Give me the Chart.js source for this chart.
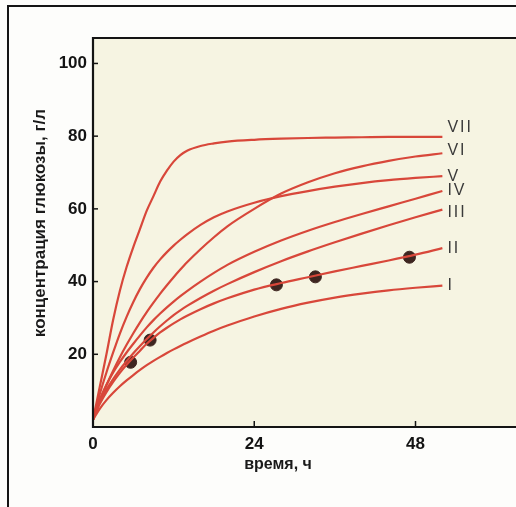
<!DOCTYPE html>
<html><head><meta charset="utf-8">
<script src="https://cdn.jsdelivr.net/npm/chart.js@4.4.1/dist/chart.umd.min.js"></script>
<style>
html,body{margin:0;padding:0;background:#fdfdfb;overflow:hidden;}
#wrap{position:relative;width:516px;height:507px;overflow:hidden;}
#frame{position:absolute;left:7px;top:5px;width:600px;height:600px;border-left:2px solid #151515;border-top:2px solid #151515;}
#c{position:absolute;left:0;top:0;}
</style></head><body>
<div id="wrap"><div id="frame"></div><canvas id="c" width="530" height="507"></canvas></div>
<script>
// time grid, hours
const hours = [0,1,2,3,4,5,6,7,8,9,10,11,12,13,14,16,18,20,24,28,32,36,40,44,48,52];
// glucose concentration, g/l
const curveI   = [2,5,7.4,9.4,11.2,12.8,14.3,15.7,17.0,18.2,19.3,20.35,21.35,22.3,23.2,24.9,26.5,27.9,30.4,32.5,34.2,35.6,36.7,37.6,38.3,38.9];
const curveII  = [2,6.3,9.6,12.4,14.9,17.1,19.1,21.0,22.9,24.5,26.0,27.3,28.5,29.6,30.6,32.4,34.0,35.4,37.8,39.6,41.2,42.8,44.3,45.8,47.4,49.2];
const curveIII = [2,6.8,10.3,13.2,15.8,18.1,20.3,22.3,24.2,26.0,27.7,29.3,30.8,32.1,33.3,35.5,37.5,39.3,42.6,45.6,48.3,50.8,53.2,55.5,57.7,59.8];
const curveIV  = [2,7.5,11.6,15.0,17.9,20.5,22.9,25.2,27.4,29.4,31.2,32.9,34.5,36.0,37.4,40.0,42.4,44.6,48.2,51.3,54.0,56.4,58.6,60.7,62.8,64.9];
const curveV   = [2,9,15,20.5,25.7,30.3,34.4,38.0,41.1,43.8,46.1,48.1,49.9,51.5,53.0,55.6,57.7,59.3,61.7,63.5,64.9,66.1,67.1,67.9,68.5,69.0];
const curveVI  = [2,7,11.5,15.5,19.2,22.6,25.8,28.8,31.6,34.2,36.7,39.0,41.2,43.3,45.3,48.9,52.2,55.2,60.0,64.2,67.3,69.8,71.7,73.2,74.4,75.3];
const curveVII = [2,11,20,29.5,37.5,44,49.5,54.5,59.5,63.5,67.5,70.5,73,74.8,76,77.3,78,78.5,79,79.3,79.5,79.6,79.7,79.8,79.8,79.8];
const curveNames = ['I','II','III','IV','V','VI','VII'];
const curves = [curveI,curveII,curveIII,curveIV,curveV,curveVI,curveVII];
// measured points
const dotHours = [5.6, 8.5, 27.3, 33.1, 47.1];
const dotConc  = [17.8, 23.9, 39.1, 41.3, 46.7];
const xTickValues = [0,24,48];
const yTickValues = [20,40,60,80,100];
const xTitle = 'время, ч';
const yTitle = 'концентрация глюкозы, г/л';

const RED = '#d8473a';
const datasets = curves.map((vals,i)=>({
  label: curveNames[i],
  data: hours.map((h,j)=>({x:h,y:vals[j]})),
  borderColor: RED, borderWidth: 2.2, pointRadius: 0,
  cubicInterpolationMode: 'monotone', fill:false
}));
datasets.push({
  label:'dots', type:'scatter',
  data: dotHours.map((h,j)=>({x:h,y:dotConc[j]})),
  backgroundColor:'#3e2520', borderColor:'#3e2520', pointRadius:6, showLine:false
});

const paper = {
  id:'paper',
  beforeDraw(chart){
    const {ctx, chartArea:a} = chart;
    ctx.save(); ctx.fillStyle='#f6f4e2';
    ctx.fillRect(a.left,a.top,a.right-a.left,a.bottom-a.top); ctx.restore();
  },
  afterDraw(chart){
    const {ctx, chartArea:a, scales} = chart;
    ctx.save();
    ctx.strokeStyle='#141414'; ctx.lineWidth=2.2;
    ctx.beginPath();
    ctx.moveTo(a.right,a.top); ctx.lineTo(a.left,a.top); ctx.lineTo(a.left,a.bottom); ctx.lineTo(a.right,a.bottom);
    ctx.stroke();
    ctx.lineWidth=1.5;
    yTickValues.forEach(v=>{const p=scales.y.getPixelForValue(v); ctx.beginPath(); ctx.moveTo(a.left,p); ctx.lineTo(a.left+5,p); ctx.stroke();});
    xTickValues.filter(v=>v>0).forEach(v=>{const p=scales.x.getPixelForValue(v); ctx.beginPath(); ctx.moveTo(p,a.bottom); ctx.lineTo(p,a.bottom-6); ctx.stroke();});
    // curve labels
    ctx.fillStyle='#3a3a3a'; ctx.font='16px "Liberation Sans", Arial, sans-serif';
    if ('letterSpacing' in ctx) ctx.letterSpacing='2px';
    ctx.textAlign='left'; ctx.textBaseline='middle';
    curves.forEach((vals,i)=>{
      const x=scales.x.getPixelForValue(hours[hours.length-1])+5;
      let y=scales.y.getPixelForValue(vals[vals.length-1]);
      if (curveNames[i]==='VII') y-=9; else if (curveNames[i]==='VI') y-=3; else if (curveNames[i]==='III') y+=3;
      ctx.fillText(curveNames[i],x,y);
    });
    if ('letterSpacing' in ctx) ctx.letterSpacing='0px';
    // axis titles
    ctx.fillStyle='#1a1a1a'; ctx.font='bold 16px "Liberation Sans", Arial, sans-serif';
    ctx.textAlign='center'; ctx.textBaseline='middle';
    ctx.fillText(xTitle, 278, 465);
    ctx.translate(40,223); ctx.rotate(-Math.PI/2);
    ctx.font='bold 17px "Liberation Sans", Arial, sans-serif';
    ctx.fillText(yTitle,0,0);
    ctx.restore();
  }
};

new Chart(document.getElementById('c'), {
  type:'line',
  data:{datasets},
  options:{
    responsive:false, animation:false, devicePixelRatio:1,
    layout:{padding:{top:38,left:0,right:0,bottom:0}},
    plugins:{legend:{display:false}, tooltip:{enabled:false}},
    scales:{
      x:{type:'linear', min:0, max:64,
        afterFit(s){s.height=80;},
        afterBuildTicks(s){s.ticks=xTickValues.map(v=>({value:v}));},
        grid:{display:false, drawTicks:false}, border:{display:false},
        ticks:{padding:7, color:'#141414', font:{size:17, weight:'bold', family:'"Liberation Sans", Arial, sans-serif'}}
      },
      y:{type:'linear', min:0, max:107,
        afterFit(s){s.width=93;},
        afterBuildTicks(s){s.ticks=yTickValues.map(v=>({value:v}));},
        grid:{display:false, drawTicks:false}, border:{display:false},
        ticks:{padding:6, color:'#141414', font:{size:17, weight:'bold', family:'"Liberation Sans", Arial, sans-serif'}}
      }
    }
  },
  plugins:[paper]
});
</script></body></html>
